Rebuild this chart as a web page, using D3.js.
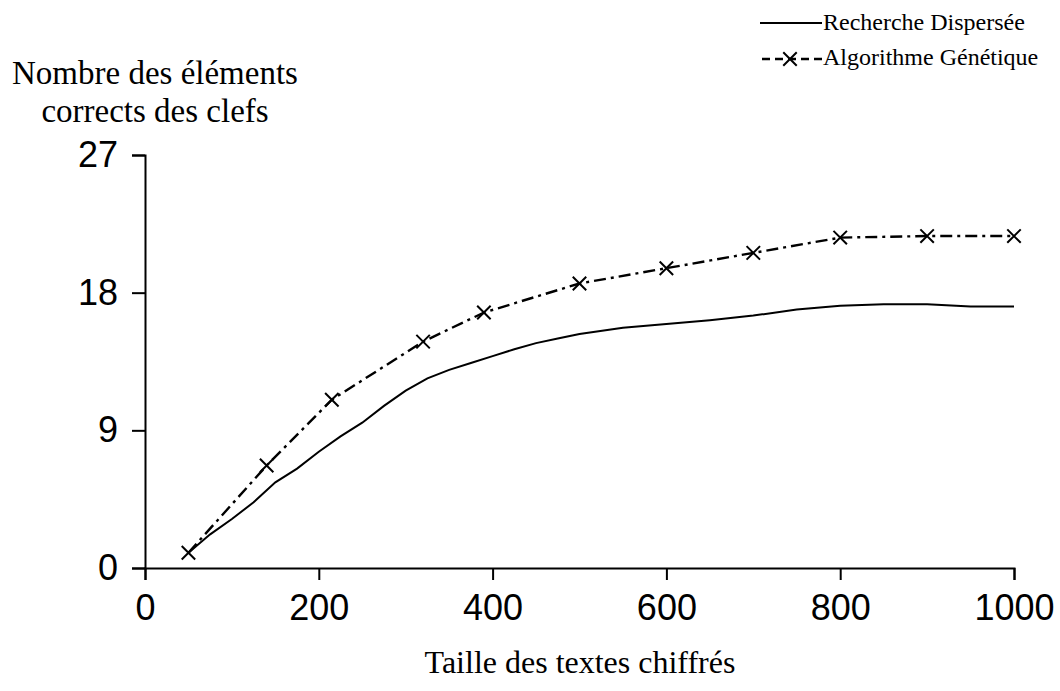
<!DOCTYPE html>
<html>
<head>
<meta charset="utf-8">
<script src="https://cdn.jsdelivr.net/npm/d3@7"></script>
<style>
  body { margin: 0; background: #fff; }
  svg { display: block; }
  .tick text { font-family: "Liberation Sans", Arial, sans-serif; font-size: 36px; fill: #000; }
  .axis path, .axis line { stroke: #000; stroke-width: 2px; }
  .serif { font-family: "Liberation Serif", "Times New Roman", serif; fill: #000; }
</style>
</head>
<body>
<svg id="chart" width="1060" height="691"></svg>
<script>
// Recherche Dispersée
const rdX = [50, 75, 100, 125, 150, 175, 200, 225, 250, 275, 300, 325, 350, 375, 400, 425, 450, 475, 500, 550, 600, 650, 700, 750, 800, 850, 900, 950, 1000];
const rdY = [1.0, 2.2, 3.2, 4.3, 5.6, 6.5, 7.6, 8.6, 9.5, 10.6, 11.6, 12.4, 12.95, 13.4, 13.85, 14.3, 14.7, 15.0, 15.3, 15.7, 15.95, 16.2, 16.5, 16.9, 17.15, 17.25, 17.25, 17.1, 17.1];

// Algorithme Génétique
const agX = [50, 140, 215, 320, 390, 500, 600, 700, 800, 900, 1000];
const agY = [1.0, 6.7, 11.0, 14.8, 16.7, 18.6, 19.6, 20.6, 21.6, 21.7, 21.7];

const xTicks = [0, 200, 400, 600, 800, 1000];
const yTicks = [0, 9, 18, 27];
const seriesNames = ["Recherche Dispersée", "Algorithme Génétique"];

const svg = d3.select('#chart');

var x = d3.scaleLinear().domain([0, 1000]).range([145, 1014]);
var y = d3.scaleLinear().domain([0, 27]).range([568, 155]);

svg.append('g')
    .attr('class', 'axis')
    .attr('transform', 'translate(0,568)')
    .call(d3.axisBottom(x).tickValues(xTicks).tickSize(12).tickPadding(14).tickFormat(d3.format('d')));

svg.append('g')
    .attr('class', 'axis')
    .attr('transform', 'translate(145,0)')
    .call(d3.axisLeft(y).tickValues(yTicks).tickSize(13).tickPadding(14));

const rd = rdX.map((d, i) => [d, rdY[i]]);
const ag = agX.map((d, i) => [d, agY[i]]);

const line = d3.line().x(d => x(d[0])).y(d => y(d[1]));

svg.append('path')
    .datum(rd)
    .attr('d', line)
    .attr('fill', 'none')
    .attr('stroke', '#000')
    .attr('stroke-width', 2);

svg.append('path')
    .datum(ag)
    .attr('d', line)
    .attr('fill', 'none')
    .attr('stroke', '#000')
    .attr('stroke-width', 2.4)
    .attr('stroke-dasharray', '12,5,3,5');

// X markers
const cross = d3.symbol().type(d3.symbolX).size(120);
svg.selectAll('.marker')
    .data(ag)
    .enter()
    .append('path')
    .attr('class', 'marker')
    .attr('d', cross)
    .attr('transform', d => 'translate(' + [x(d[0]), y(d[1])] + ')')
    .attr('fill', 'none')
    .attr('stroke', '#000')
    .attr('stroke-width', 2);

// Axis titles
const yTitle = svg.append('text')
    .attr('class', 'serif')
    .attr('text-anchor', 'middle')
    .attr('font-size', '33px');
yTitle.append('tspan').attr('x', 155).attr('y', 84).text('Nombre des éléments');
yTitle.append('tspan').attr('x', 155).attr('y', 122).text('corrects des clefs');

svg.append('text')
    .attr('class', 'serif')
    .attr('text-anchor', 'middle')
    .attr('font-size', '32px')
    .attr('x', 580)
    .attr('y', 673)
    .text('Taille des textes chiffrés');

// Legend
const legend = svg.append('g');
legend.append('line')
    .attr('x1', 760).attr('x2', 822).attr('y1', 23).attr('y2', 23)
    .attr('stroke', '#000').attr('stroke-width', 2);
legend.append('line')
    .attr('x1', 762).attr('x2', 823).attr('y1', 59).attr('y2', 59)
    .attr('stroke', '#000').attr('stroke-width', 2.4)
    .attr('stroke-dasharray', '8,5');
legend.append('path')
    .attr('d', cross)
    .attr('transform', 'translate(790,59)')
    .attr('fill', 'none').attr('stroke', '#000').attr('stroke-width', 2);
legend.selectAll('.leg-text')
    .data(seriesNames)
    .enter()
    .append('text')
    .attr('class', 'serif')
    .attr('font-size', '24px')
    .attr('x', 823)
    .attr('y', (d, i) => 30 + i * 35)
    .text(d => d);
</script>
</body>
</html>
